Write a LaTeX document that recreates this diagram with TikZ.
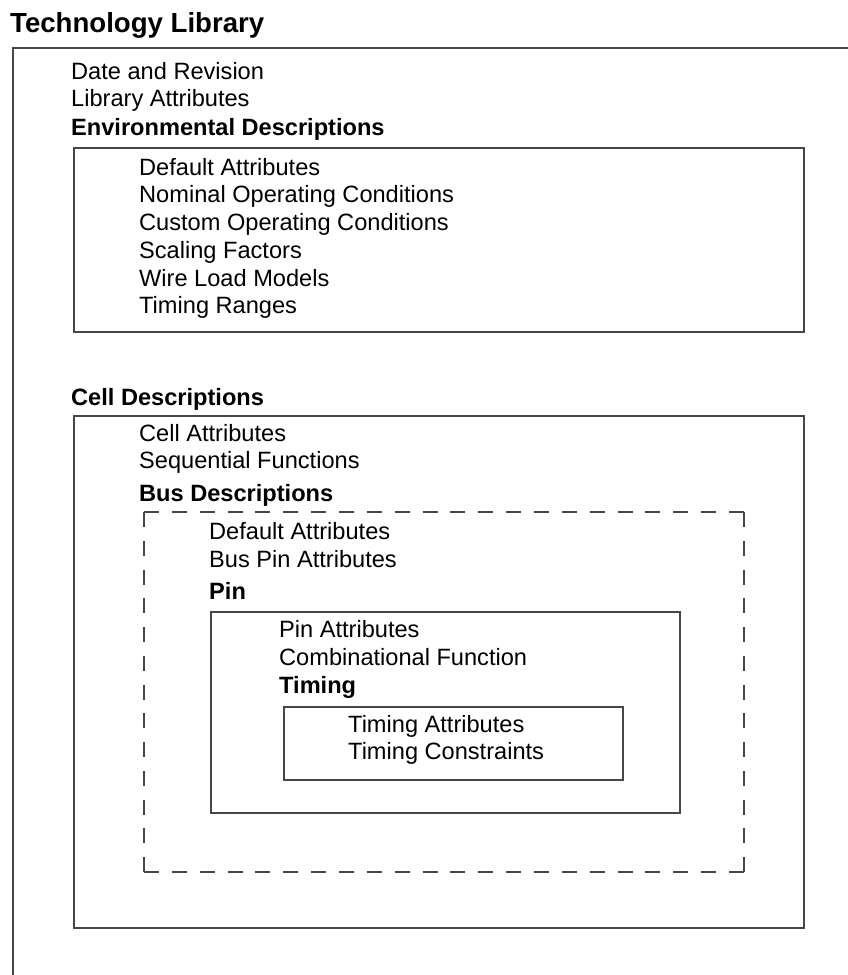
\documentclass[tikz,border=0pt]{standalone}
\usepackage{fontspec}
\setmainfont{Liberation Sans}
\begin{document}
\begin{tikzpicture}[x=1pt,y=-1pt,
  frame/.style={draw=black!72,line width=2pt},
  hdash/.style={frame,dash pattern=on 15pt off 12.86pt},
  vdash/.style={frame,dash pattern=on 15pt off 13.75pt},
  entry/.style={anchor=base west,inner sep=0pt,font=\fontsize{23.6}{28}\selectfont},
  heading/.style={anchor=base west,inner sep=0pt,font=\fontsize{23.6}{28}\selectfont\bfseries},
]
\useasboundingbox (0,0) rectangle (847,975);

% title and the library frame (runs past the page edge)
\node[anchor=base west,inner sep=0pt,font=\fontsize{27.6}{32}\selectfont\bfseries] (title) at (10,32) {Technology Library};
\draw[frame] (13,1000) -- (13,48) -- (880,48);

% library level
\node[entry]   (date)    at (71,79)  {Date and Revision};
\node[entry]   (libattr) at (71,106) {Library Attributes};
\node[heading] (envhd)   at (71,135) {Environmental Descriptions};

% environmental descriptions
\draw[frame] (74,148) rectangle (804,332);
\node[entry] (envdef)  at (139,175) {Default Attributes};
\node[entry] (envnom)  at (139,202.5) {Nominal Operating Conditions};
\node[entry] (envcust) at (139,230) {Custom Operating Conditions};
\node[entry] (envscal) at (139,258) {Scaling Factors};
\node[entry] (envwire) at (139,286) {Wire Load Models};
\node[entry] (envtime) at (139,313) {Timing Ranges};

% cell descriptions
\node[heading] (cellhd) at (71,405) {Cell Descriptions};
\draw[frame] (74,416) rectangle (804,928);
\node[entry]   (cellattr) at (139,441) {Cell Attributes};
\node[entry]   (cellseq)  at (139,468.5) {Sequential Functions};
\node[heading] (bushd)    at (139,501) {Bus Descriptions};

% bus descriptions: dashed frame, each side dashed from corner to corner
\coordinate (bnw) at (144,512);
\coordinate (bne) at (744,512);
\coordinate (bse) at (744,872);
\coordinate (bsw) at (144,872);
\draw[hdash] (bnw) -- (bne);
\draw[hdash] (bsw) -- (bse);
\draw[vdash] (bnw) -- (bsw);
\draw[vdash] (bne) -- (bse);
\node[entry]   (busdef) at (209,539) {Default Attributes};
\node[entry]   (buspin) at (209,567) {Bus Pin Attributes};
\node[heading] (pinhd)  at (209,599) {Pin};

% pin
\draw[frame] (211,612) rectangle (680,813);
\node[entry]   (pinattr) at (279,637) {Pin Attributes};
\node[entry]   (pincomb) at (279,665.5) {Combinational Function};
\node[heading] (timhd)   at (279,693) {Timing};

% timing
\draw[frame] (284,707) rectangle (623,780);
\node[entry] (timattr) at (348,732) {Timing Attributes};
\node[entry] (timcons) at (348,759) {Timing Constraints};
\end{tikzpicture}
\end{document}
